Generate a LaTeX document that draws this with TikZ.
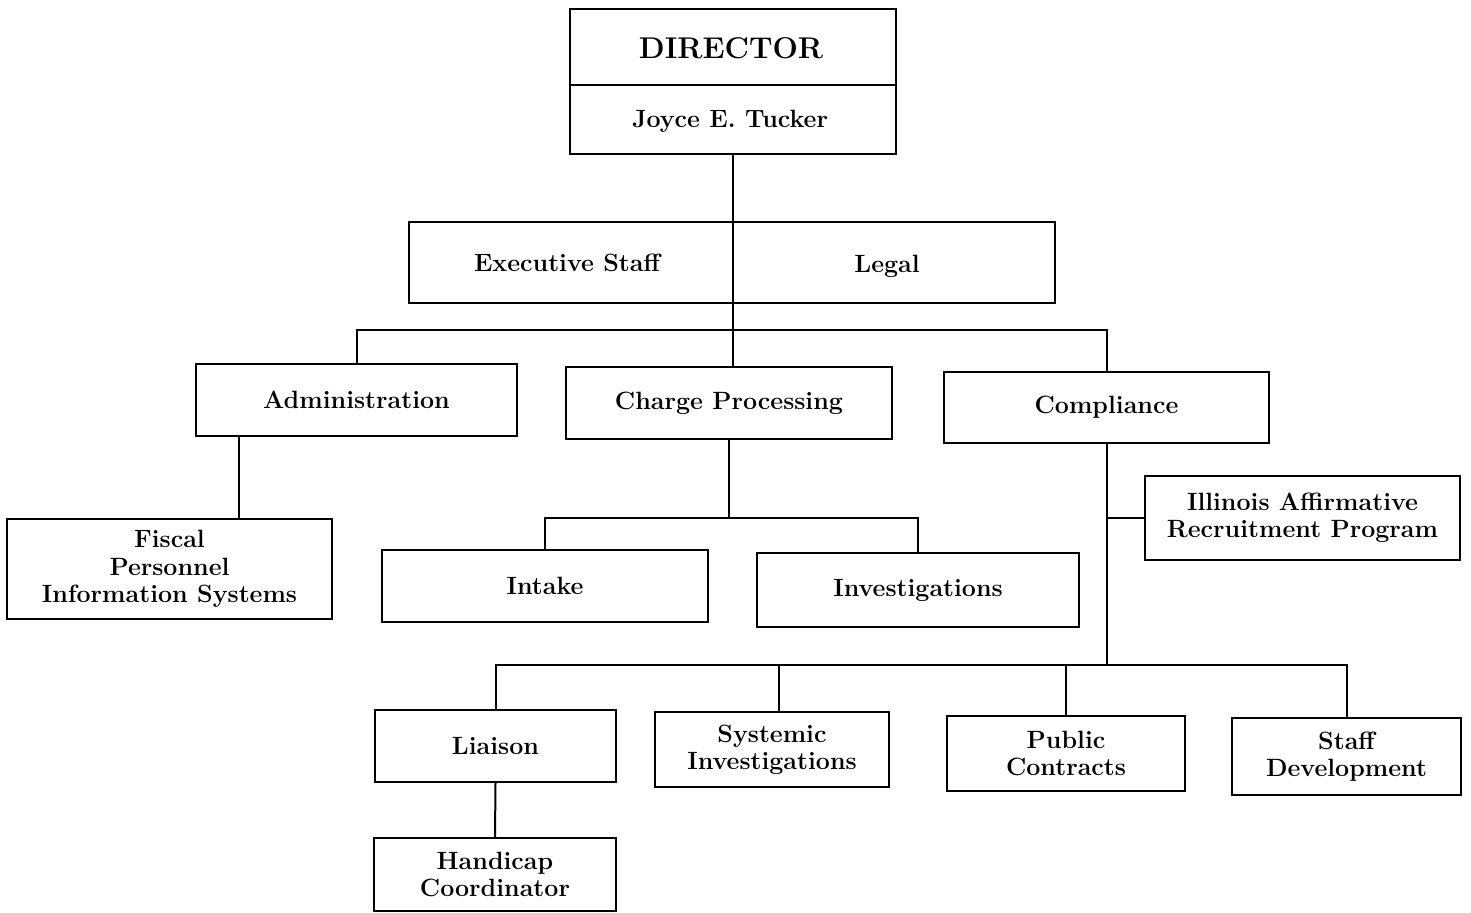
\documentclass[tikz,border=0pt]{standalone}
\usetikzlibrary{calc}
\begin{document}
\begin{tikzpicture}[x=0.5pt,y=-0.5pt,
  box/.style={draw,line width=1pt,inner sep=0pt,align=center,font=\fontsize{12.5}{13.6}\selectfont\bfseries},
  conn/.style={line width=1pt}]
\useasboundingbox (0,0) rectangle (1471,913);
% boxes
\node[box,minimum width=163pt,minimum height=72.5pt] (director) at (733,82) {};
\node[font=\fontsize{15}{16}\selectfont\bfseries] (dirt) at (731,48) {DIRECTOR};
\node[font=\fontsize{12.5}{13.6}\selectfont\bfseries] (dirn) at (730,121) {Joyce E. Tucker};
\draw[conn] (director.north west) ++(0,76.5) coordinate (dl) -- (dl -| director.east);
\node[box,minimum width=323pt,minimum height=40.5pt] (exec) at (732,262.5) {};
\node[font=\fontsize{12.5}{13.6}\selectfont\bfseries] (exect) at (567,263) {Executive Staff};
\node[font=\fontsize{12.5}{13.6}\selectfont\bfseries] (legal) at (887,266) {Legal};
\node[box,minimum width=160.5pt,minimum height=36pt] (admin) at (356.5,400) {Administration};
\node[box,minimum width=163pt,minimum height=36pt] (charge) at (729,403) {Charge Processing};
\node[box,minimum width=162.5pt,minimum height=35.5pt] (compliance) at (1106.5,407.5) {Compliance};
\node[box,minimum width=162.5pt,minimum height=50pt] (fiscal) at (169.5,569) {Fiscal\\Personnel\\Information Systems};
\node[box,minimum width=163pt,minimum height=36pt] (intake) at (545,586) {Intake};
\node[box,minimum width=161pt,minimum height=37pt] (invest) at (918,590) {Investigations};
\node[box,minimum width=157.5pt,minimum height=42pt] (illinois) at (1302.5,518) {Illinois Affirmative\\Recruitment Program};
\node[box,minimum width=120.5pt,minimum height=36pt] (liaison) at (495.5,746) {Liaison};
\node[box,minimum width=117pt,minimum height=37.5pt] (systemic) at (772,749.5) {Systemic\\Investigations};
\node[box,minimum width=119pt,minimum height=37.5pt] (public) at (1066,753.5) {Public\\Contracts};
\node[box,minimum width=114.5pt,minimum height=38.5pt] (staff) at (1346.5,756.5) {Staff\\Development};
\node[box,minimum width=121pt,minimum height=36.5pt] (handicap) at (495,874.5) {Handicap\\Coordinator};
% connectors
\draw[conn] (director.south) -- (director.south |- charge.north);
\coordinate (bus) at (733,330);
\draw[conn] (admin.north) |- (bus) -| (compliance.north);
\draw[conn] (admin.south west) ++(44,0) coordinate (a1) -- (a1 |- fiscal.north);
\coordinate (cpbus) at (729,518);
\draw[conn] (charge.south) -- (cpbus);
\draw[conn] (intake.north) |- (cpbus) -| (invest.north);
\coordinate (cbus) at (1106.5,665);
\draw[conn] (compliance.south) -- (cbus);
\draw[conn] (compliance.south |- illinois.west) -- (illinois.west);
\draw[conn] (liaison.north) |- (cbus) -| (staff.north);
\draw[conn] ([xshift=3.5pt]systemic.north) -- ([xshift=3.5pt]systemic.north |- cbus);
\draw[conn] (public.north) -- (public.north |- cbus);
\draw[conn] (liaison.south) -- (handicap.north);
\end{tikzpicture}
\end{document}
